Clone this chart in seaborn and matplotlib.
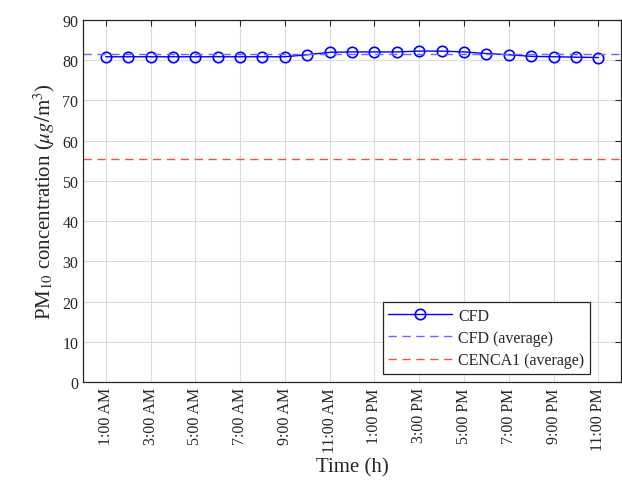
import matplotlib
matplotlib.use("Agg")
import matplotlib.pyplot as plt
import seaborn as sns
import pandas as pd

# hourly CFD values
hours = list(range(1, 24))
cfd = [80.8, 80.8, 80.8, 80.8, 80.8, 80.8, 80.8, 80.8, 80.8, 81.3, 81.9, 82.0,
       82.0, 82.0, 82.2, 82.2, 82.0, 81.6, 81.3, 80.9, 80.8, 80.7, 80.6]
cfd_avg = 81.5
cenca_avg = 55.4

tick_hours = list(range(1, 24, 2))
tick_labels = ['1:00 AM', '3:00 AM', '5:00 AM', '7:00 AM', '9:00 AM', '11:00 AM',
               '1:00 PM', '3:00 PM', '5:00 PM', '7:00 PM', '9:00 PM', '11:00 PM']

sns.set_style("white")
plt.rcParams['font.family'] = ['Liberation Serif', 'DejaVu Serif']
plt.rcParams['mathtext.fontset'] = 'stix'

df = pd.DataFrame({'hour': hours, 'pm10': cfd})

fig = plt.figure(figsize=(6.22, 5.02), dpi=100)
ax = fig.add_axes([0.134, 0.2365, 0.864, 0.7223])

sns.lineplot(data=df, x='hour', y='pm10', ax=ax, color='#0000ff', lw=1.0,
             marker='o', markersize=7.5, markerfacecolor='none',
             markeredgecolor='#0000ff', markeredgewidth=1.2, label='CFD')
ax.axhline(cfd_avg, color='#6a6aff', ls=(0, (6, 4)), lw=1.0, label='CFD (average)')
ax.axhline(cenca_avg, color='#ff4a4a', ls=(0, (6, 4)), lw=1.0, label='CENCA1 (average)')

ax.set_xlim(0, 24)
ax.set_ylim(0, 90)
ax.set_yticks(range(0, 91, 10))
ax.set_xticks(tick_hours)
ax.set_xticklabels(tick_labels, rotation=90)
ax.tick_params(axis='both', direction='in', top=True, right=True, length=4,
               labelsize=11.5, color='#262626', labelcolor='#262626')
ax.grid(True, color='#dcdcdc', lw=0.8)
for s in ax.spines.values():
    s.set_color('#262626')
    s.set_linewidth(0.9)

ax.set_xlabel('Time (h)', fontsize=15, color='#262626')
ax.set_ylabel(r'PM$_{10}$ concentration ($\mu g/\mathrm{m}^3$)', fontsize=15, color='#262626')

leg = ax.legend(loc='lower right', bbox_to_anchor=(0.943, 0.023), fontsize=11.5,
                fancybox=False, framealpha=1, edgecolor='#262626', borderaxespad=0,
                handlelength=4.0, handletextpad=0.4, labelspacing=0.4, borderpad=0.35)
leg.get_frame().set_linewidth(0.9)

fig.savefig('out.png', dpi=100)
